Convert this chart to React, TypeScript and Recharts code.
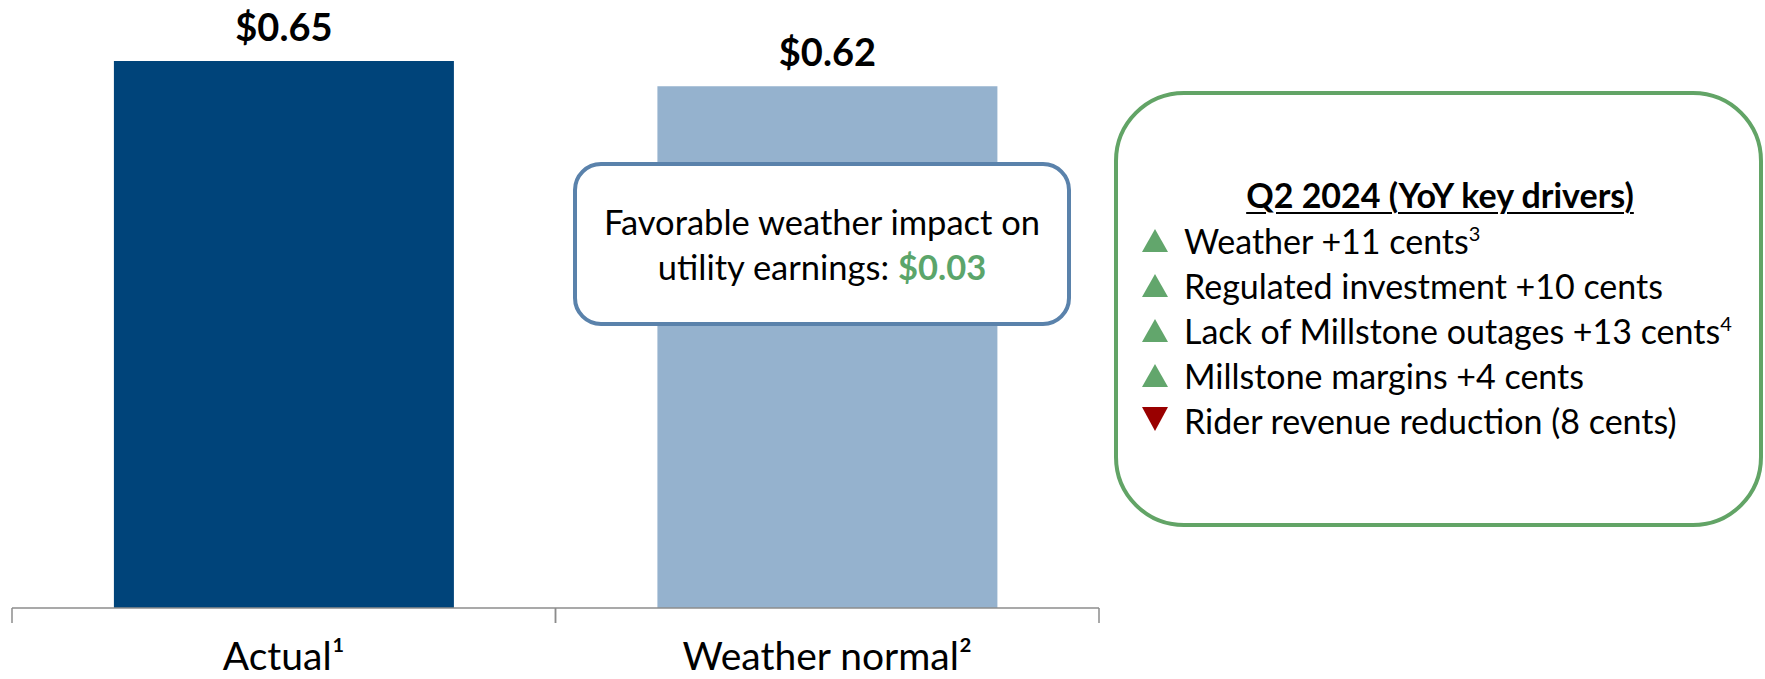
import { BarChart, Bar, XAxis, YAxis, Cell, LabelList } from "recharts";

const FONT = "Lato, 'Open Sans', sans-serif";

// EPS per share, Q2 2024
const categories = ["Actual¹", "Weather normal²"];
const epsValues = [0.65, 0.62];
const barColors = ["#00447A", "#95B2CE"];

const weatherImpact = 0.03;
const weatherNote = ["Favorable weather impact on", "utility earnings: "];

const driversTitle = "Q2 2024 (YoY key drivers)";
const driverLabels = [
  "Weather +11 cents",
  "Regulated investment +10 cents",
  "Lack of Millstone outages +13 cents",
  "Millstone margins +4 cents",
  "Rider revenue reduction (8 cents)",
];
const driverNotes = ["3", "", "4", "", ""];
const driverUp = [true, true, true, true, false];

const data = categories.map((name, i) => ({ name, value: epsValues[i] }));

const fmtDollar = (v: number) => `$${v.toFixed(2)}`;

function CategoryTick(props: any) {
  const { x, y, payload } = props;
  const half = payload?.offset ?? (1099 - 12) / 4;
  return (
    <g>
      <line x1={x - half} x2={x - half} y1={y} y2={y + 15} stroke="#8C8C8C" strokeWidth={1.5} />
      <line x1={x + half} x2={x + half} y1={y} y2={y + 15} stroke="#8C8C8C" strokeWidth={1.5} />
      <text x={x} y={y + 62} textAnchor="middle" fontSize={39} fontFamily={FONT} fill="#000">
        {payload.value}
      </text>
    </g>
  );
}

function Triangle({ up }: { up: boolean }) {
  return (
    <svg width={26} height={24} style={{ position: "absolute", left: 0, top: up ? 11 : 9 }}>
      {up ? (
        <polygon points="13,0 26,23 0,23" fill="#62A66C" />
      ) : (
        <polygon points="0,0 26,0 13,24" fill="#990000" />
      )}
    </svg>
  );
}

export default function App() {
  return (
    <div
      style={{
        position: "absolute",
        left: 0,
        top: 0,
        width: 1765,
        height: 679,
        background: "#fff",
        fontFamily: FONT,
        overflow: "hidden",
      }}
    >
      <BarChart
        width={1765}
        height={679}
        data={data}
        margin={{ top: 61, right: 666, left: 12, bottom: 0 }}
        barCategoryGap="18.75%"
      >
        <XAxis
          dataKey="name"
          height={71}
          interval={0}
          tickSize={0}
          tickMargin={0}
          tickLine={false}
          axisLine={{ stroke: "#8C8C8C", strokeWidth: 1.5 }}
          tick={<CategoryTick />}
        />
        <YAxis hide domain={[0, 0.65]} />
        <Bar dataKey="value" isAnimationActive={false}>
          {data.map((d, i) => (
            <Cell key={d.name} fill={barColors[i]} />
          ))}
          <LabelList
            dataKey="value"
            position="top"
            offset={20}
            formatter={(v: any) => fmtDollar(Number(v))}
            style={{ fontFamily: FONT, fontSize: 38, fontWeight: 700, fill: "#000" }}
          />
        </Bar>
      </BarChart>

      {/* weather callout */}
      <div
        style={{
          position: "absolute",
          left: 573,
          top: 162,
          width: 498,
          height: 164,
          boxSizing: "border-box",
          border: "4px solid #5A82AB",
          borderRadius: 28,
          background: "#fff",
          display: "flex",
          flexDirection: "column",
          justifyContent: "center",
          alignItems: "center",
          fontSize: 34.5,
          lineHeight: "45px",
          color: "#000",
          whiteSpace: "nowrap",
        }}
      >
        <div>{weatherNote[0]}</div>
        <div>
          {weatherNote[1]}
          <span style={{ color: "#5BA56B", fontWeight: 700 }}>{fmtDollar(weatherImpact)}</span>
        </div>
      </div>

      {/* key drivers panel */}
      <div
        style={{
          position: "absolute",
          left: 1114,
          top: 91,
          width: 649,
          height: 436,
          boxSizing: "border-box",
          border: "4px solid #62A466",
          borderRadius: 70,
        }}
      />
      <div
        style={{
          position: "absolute",
          left: 1114,
          top: 172,
          width: 652,
          textAlign: "center",
          fontSize: 34,
          fontWeight: 700,
          lineHeight: "45px",
          whiteSpace: "nowrap",
          textDecoration: "underline",
          textDecorationThickness: 2,
          textUnderlineOffset: 4,
        }}
      >
        {driversTitle}
      </div>
      {driverLabels.map((label, i) => (
        <div
          key={label}
          style={{
            position: "absolute",
            left: 1142,
            top: 218 + i * 45,
            height: 45,
            width: 620,
            fontSize: 34,
            lineHeight: "45px",
            whiteSpace: "nowrap",
          }}
        >
          <Triangle up={driverUp[i]} />
          <span style={{ position: "absolute", left: 42, top: 0 }}>
            {label}
            {driverNotes[i] && (
              <span style={{ fontSize: 20, position: "relative", top: -13 }}>{driverNotes[i]}</span>
            )}
          </span>
        </div>
      ))}
    </div>
  );
}
